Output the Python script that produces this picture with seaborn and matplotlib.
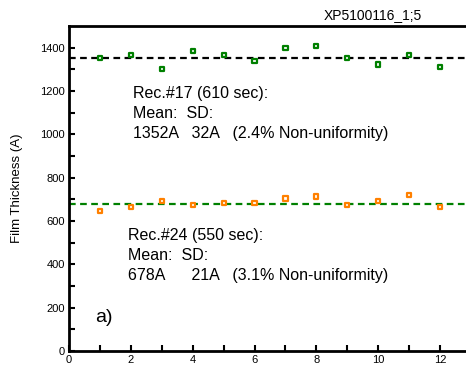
import numpy as np
import pandas as pd
import matplotlib
matplotlib.use("Agg")
import matplotlib.pyplot as plt
import seaborn as sns

# ================= DATA =================
positions = [1, 2, 3, 4, 5, 6, 7, 8, 9, 10, 11, 12]
rec17_thickness = [1351, 1368, 1303, 1386, 1368, 1339, 1397, 1407, 1351, 1322, 1368, 1312]
rec24_thickness = [647, 663, 693, 675, 684, 684, 704, 713, 675, 693, 721, 665]
rec17_mean = 1352
rec24_mean = 678
x_ticks = [0, 2, 4, 6, 8, 10, 12]
y_ticks = [0, 200, 400, 600, 800, 1000, 1200, 1400]

GREEN = "#008000"
ORANGE = "#ff8000"

sns.set_style("ticks", {"axes.edgecolor": "black", "xtick.color": "black",
                        "ytick.color": "black", "text.color": "black",
                        "axes.labelcolor": "black"})
plt.rcParams['font.family'] = ['Liberation Sans', 'DejaVu Sans']

df = pd.DataFrame({
    "pos": positions * 2,
    "thk": rec17_thickness + rec24_thickness,
    "rec": ["17"] * len(positions) + ["24"] * len(positions),
})

fig = plt.figure(figsize=(4.66, 3.69), dpi=100)
ax = fig.add_axes([69 / 466, 1 - 351 / 369, 1 - 69 / 466, (351 - 26) / 369])

# mean lines
ax.axhline(rec17_mean, color="black", ls=(0, (3, 2)), lw=1.6, zorder=1)
ax.axhline(rec24_mean, color=GREEN, ls=(0, (3, 2)), lw=1.6, zorder=1)

sns.scatterplot(data=df, x="pos", y="thk", hue="rec",
                palette={"17": GREEN, "24": ORANGE}, marker="s", s=9,
                linewidth=1.6, legend=False, ax=ax, zorder=3)
# white centre with coloured border
pts = ax.collections[-1]
pts.set_edgecolors([GREEN if r == "17" else ORANGE for r in df["rec"]])
pts.set_facecolors("white")

ax.set_xlim(0, 12.84)
ax.set_ylim(0, 1500)
ax.set_xticks(x_ticks)
ax.set_yticks(y_ticks)
ax.set_xticks(np.arange(1, 13, 2), minor=True)
ax.set_yticks(np.arange(100, 1500, 200), minor=True)
ax.tick_params(which="both", direction="in", length=4, width=1.5, labelsize=8, pad=3)
ax.set_xlabel("")
ax.set_ylabel("Film Thickness (A)", fontsize=9.5, labelpad=12)

for s in ["left", "bottom", "top"]:
    ax.spines[s].set_linewidth(2)
ax.spines["right"].set_visible(False)

ax.text(2.08, 1222, "Rec.#17 (610 sec):\nMean:  SD:\n1352A   32A   (2.4% Non-uniformity)",
        fontsize=11.5, va="top", ha="left", linespacing=1.4)
ax.text(1.92, 568, "Rec.#24 (550 sec):\nMean:  SD:\n678A      21A   (3.1% Non-uniformity)",
        fontsize=11.5, va="top", ha="left", linespacing=1.4)
ax.text(0.85, 155, "a)", fontsize=14, va="center", ha="left")

fig.text(373 / 466, 1 - 15 / 369, "XP5100116_1;5", fontsize=10, ha="center", va="center")

fig.savefig("out.png", dpi=100)
